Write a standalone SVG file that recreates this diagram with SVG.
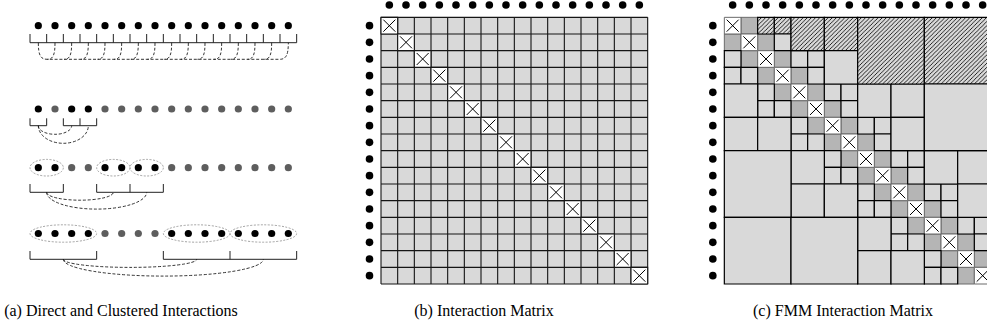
<svg xmlns="http://www.w3.org/2000/svg" xmlns:xlink="http://www.w3.org/1999/xlink" width="987" height="331" viewBox="0 0 987 331">
<style>
.bk{fill:#000}
.gr{fill:#5e5e5e}
.br{fill:none;stroke:#222;stroke-width:1}
.ds{fill:none;stroke:#111;stroke-width:0.85;stroke-dasharray:3,1.8}
.el{fill:none;stroke:#8a8a8a;stroke-width:0.8;stroke-dasharray:2,1.5}
.ns{vector-effect:non-scaling-stroke}
.lt{fill:#d9d9d9;stroke:#000;stroke-width:1.2;vector-effect:non-scaling-stroke}
.ht{fill:url(#hatch);stroke:#000;stroke-width:1.2;vector-effect:non-scaling-stroke}
.dk{fill:#b5b5b5;stroke:#6a6a6a;stroke-width:1;vector-effect:non-scaling-stroke}
.cap{font-family:"Liberation Serif","Times New Roman",serif;font-size:16px;fill:#000}
</style>
<defs>
<pattern id="hatch" patternUnits="userSpaceOnUse" width="0.25" height="0.25">
<rect width="0.25" height="0.25" fill="#d9d9d9"/>
<path d="M-0.0625,0.0625 L0.0625,-0.0625 M0,0.25 L0.25,0 M0.1875,0.3125 L0.3125,0.1875" stroke="#000" stroke-width="0.05"/>
</pattern>
<rect id="d" width="1" height="1" class="dk"/>
<rect id="l" width="1" height="1" class="lt"/>
<rect id="l2" width="2" height="2" class="lt"/>
<rect id="l4" width="4" height="4" class="lt"/>
<g id="xc">
<rect width="1" height="1" fill="#fff" stroke="#6a6a6a" stroke-width="1" class="ns"/>
<path d="M0.14,0.14 L0.86,0.86 M0.86,0.14 L0.14,0.86" stroke="#000" stroke-width="1" fill="none" class="ns"/>
</g>
<g id="xb">
<rect width="1" height="1" fill="#fff" stroke="#151515" stroke-width="1.1" class="ns"/>
<path d="M0.14,0.14 L0.86,0.86 M0.86,0.14 L0.14,0.86" stroke="#000" stroke-width="1" fill="none" class="ns"/>
</g>
<g id="dots">
<circle cx="0.5" cy="-0.74" r="0.228"/><circle cx="1.5" cy="-0.74" r="0.228"/><circle cx="2.5" cy="-0.74" r="0.228"/><circle cx="3.5" cy="-0.74" r="0.228"/>
<circle cx="4.5" cy="-0.74" r="0.228"/><circle cx="5.5" cy="-0.74" r="0.228"/><circle cx="6.5" cy="-0.74" r="0.228"/><circle cx="7.5" cy="-0.74" r="0.228"/>
<circle cx="8.5" cy="-0.74" r="0.228"/><circle cx="9.5" cy="-0.74" r="0.228"/><circle cx="10.5" cy="-0.74" r="0.228"/><circle cx="11.5" cy="-0.74" r="0.228"/>
<circle cx="12.5" cy="-0.74" r="0.228"/><circle cx="13.5" cy="-0.74" r="0.228"/><circle cx="14.5" cy="-0.74" r="0.228"/><circle cx="15.5" cy="-0.74" r="0.228"/>
<circle cx="-0.69" cy="0.5" r="0.228"/><circle cx="-0.69" cy="1.5" r="0.228"/><circle cx="-0.69" cy="2.5" r="0.228"/><circle cx="-0.69" cy="3.5" r="0.228"/>
<circle cx="-0.69" cy="4.5" r="0.228"/><circle cx="-0.69" cy="5.5" r="0.228"/><circle cx="-0.69" cy="6.5" r="0.228"/><circle cx="-0.69" cy="7.5" r="0.228"/>
<circle cx="-0.69" cy="8.5" r="0.228"/><circle cx="-0.69" cy="9.5" r="0.228"/><circle cx="-0.69" cy="10.5" r="0.228"/><circle cx="-0.69" cy="11.5" r="0.228"/>
<circle cx="-0.69" cy="12.5" r="0.228"/><circle cx="-0.69" cy="13.5" r="0.228"/><circle cx="-0.69" cy="14.5" r="0.228"/><circle cx="-0.69" cy="15.5" r="0.228"/>
</g>
</defs>
<rect width="987" height="331" fill="#fff"/>

<!-- Panel (a) -->
<g id="panel-a">
<g id="a-row1">
<circle class="bk" cx="38.33" cy="25.7" r="3.6"/><circle class="bk" cx="55" cy="25.7" r="3.6"/><circle class="bk" cx="71.67" cy="25.7" r="3.6"/><circle class="bk" cx="88.33" cy="25.7" r="3.6"/>
<circle class="bk" cx="105" cy="25.7" r="3.6"/><circle class="bk" cx="121.67" cy="25.7" r="3.6"/><circle class="bk" cx="138.33" cy="25.7" r="3.6"/><circle class="bk" cx="155" cy="25.7" r="3.6"/>
<circle class="bk" cx="171.67" cy="25.7" r="3.6"/><circle class="bk" cx="188.33" cy="25.7" r="3.6"/><circle class="bk" cx="205" cy="25.7" r="3.6"/><circle class="bk" cx="221.67" cy="25.7" r="3.6"/>
<circle class="bk" cx="238.33" cy="25.7" r="3.6"/><circle class="bk" cx="255" cy="25.7" r="3.6"/><circle class="bk" cx="271.67" cy="25.7" r="3.6"/><circle class="bk" cx="288.33" cy="25.7" r="3.6"/>
<path class="br" d="M30,42.7 H296.67 M30,34 V42.7 M46.67,34 V42.7 M63.33,34 V42.7 M80,34 V42.7 M96.67,34 V42.7 M113.33,34 V42.7 M130,34 V42.7 M146.67,34 V42.7 M163.33,34 V42.7 M180,34 V42.7 M196.67,34 V42.7 M213.33,34 V42.7 M230,34 V42.7 M246.67,34 V42.7 M263.33,34 V42.7 M280,34 V42.7 M296.67,34 V42.7"/>
</g>
<g id="a-row2">
<circle class="bk" cx="38.33" cy="109" r="3.6"/><circle class="gr" cx="55" cy="109" r="3.6"/><circle class="bk" cx="71.67" cy="109" r="3.6"/><circle class="bk" cx="88.33" cy="109" r="3.6"/>
<circle class="gr" cx="105" cy="109" r="3.6"/><circle class="gr" cx="121.67" cy="109" r="3.6"/><circle class="gr" cx="138.33" cy="109" r="3.6"/><circle class="gr" cx="155" cy="109" r="3.6"/>
<circle class="gr" cx="171.67" cy="109" r="3.6"/><circle class="gr" cx="188.33" cy="109" r="3.6"/><circle class="gr" cx="205" cy="109" r="3.6"/><circle class="gr" cx="221.67" cy="109" r="3.6"/>
<circle class="gr" cx="238.33" cy="109" r="3.6"/><circle class="gr" cx="255" cy="109" r="3.6"/><circle class="gr" cx="271.67" cy="109" r="3.6"/><circle class="gr" cx="288.33" cy="109" r="3.6"/>
<path class="br" d="M30,118.3 V125.7 H46.67 V118.3 M63.33,118.3 V125.7 H96.67 V118.3 M80,118.3 V125.7"/>
</g>
<g id="a-row3">
<ellipse class="el" cx="46.67" cy="167.7" rx="16.67" ry="8.3"/><ellipse class="el" cx="113.33" cy="167.7" rx="16.67" ry="8.3"/><ellipse class="el" cx="146.67" cy="167.7" rx="16.67" ry="8.3"/>
<circle class="bk" cx="38.33" cy="167.7" r="3.6"/><circle class="bk" cx="55" cy="167.7" r="3.6"/><circle class="gr" cx="71.67" cy="167.7" r="3.6"/><circle class="gr" cx="88.33" cy="167.7" r="3.6"/>
<circle class="bk" cx="105" cy="167.7" r="3.6"/><circle class="bk" cx="121.67" cy="167.7" r="3.6"/><circle class="bk" cx="138.33" cy="167.7" r="3.6"/><circle class="bk" cx="155" cy="167.7" r="3.6"/>
<circle class="gr" cx="171.67" cy="167.7" r="3.6"/><circle class="gr" cx="188.33" cy="167.7" r="3.6"/><circle class="gr" cx="205" cy="167.7" r="3.6"/><circle class="gr" cx="221.67" cy="167.7" r="3.6"/>
<circle class="gr" cx="238.33" cy="167.7" r="3.6"/><circle class="gr" cx="255" cy="167.7" r="3.6"/><circle class="gr" cx="271.67" cy="167.7" r="3.6"/><circle class="gr" cx="288.33" cy="167.7" r="3.6"/>
<path class="br" d="M30,184 V192.3 H63.33 V184 M96.67,184 V192.3 H163.33 V184 M130,184 V192.3"/>
</g>
<g id="a-row4">
<ellipse class="el" cx="63.33" cy="233.5" rx="33.33" ry="8.7"/><ellipse class="el" cx="196.67" cy="233.5" rx="33.33" ry="8.7"/><ellipse class="el" cx="263.33" cy="233.5" rx="33.33" ry="8.7"/>
<circle class="bk" cx="38.33" cy="233.5" r="3.6"/><circle class="bk" cx="55" cy="233.5" r="3.6"/><circle class="bk" cx="71.67" cy="233.5" r="3.6"/><circle class="bk" cx="88.33" cy="233.5" r="3.6"/>
<circle class="gr" cx="105" cy="233.5" r="3.6"/><circle class="gr" cx="121.67" cy="233.5" r="3.6"/><circle class="gr" cx="138.33" cy="233.5" r="3.6"/><circle class="gr" cx="155" cy="233.5" r="3.6"/>
<circle class="bk" cx="171.67" cy="233.5" r="3.6"/><circle class="bk" cx="188.33" cy="233.5" r="3.6"/><circle class="bk" cx="205" cy="233.5" r="3.6"/><circle class="bk" cx="221.67" cy="233.5" r="3.6"/>
<circle class="bk" cx="238.33" cy="233.5" r="3.6"/><circle class="bk" cx="255" cy="233.5" r="3.6"/><circle class="bk" cx="271.67" cy="233.5" r="3.6"/><circle class="bk" cx="288.33" cy="233.5" r="3.6"/>
<path class="br" d="M30,251 V259.3 H96.67 V251 M163.33,251 V259.3 H296.67 V251 M230,251 V259.3"/>
</g>
</g>

<g id="connectors">
<path class="ds" d="M38.33,42.7 C38.33,55 40.5,59.3 47,59.3 L279.63,59.3 C286.1,59.3 288.33,55 288.33,42.7"/>
<path class="ds" d="M55,42.7 C55,54 53.5,59.3 47.5,59.3"/>
<path class="ds" d="M71.67,42.7 C71.67,54 70.2,59.3 64.2,59.3"/>
<path class="ds" d="M88.33,42.7 C88.33,54 86.8,59.3 80.8,59.3"/>
<path class="ds" d="M105,42.7 C105,54 103.5,59.3 97.5,59.3"/>
<path class="ds" d="M121.67,42.7 C121.67,54 120.2,59.3 114.2,59.3"/>
<path class="ds" d="M138.33,42.7 C138.33,54 136.8,59.3 130.8,59.3"/>
<path class="ds" d="M155,42.7 C155,54 153.5,59.3 147.5,59.3"/>
<path class="ds" d="M171.67,42.7 C171.67,54 170.2,59.3 164.2,59.3"/>
<path class="ds" d="M188.33,42.7 C188.33,54 186.8,59.3 180.8,59.3"/>
<path class="ds" d="M205,42.7 C205,54 203.5,59.3 197.5,59.3"/>
<path class="ds" d="M221.67,42.7 C221.67,54 220.2,59.3 214.2,59.3"/>
<path class="ds" d="M238.33,42.7 C238.33,54 236.8,59.3 230.8,59.3"/>
<path class="ds" d="M255,42.7 C255,54 253.5,59.3 247.5,59.3"/>
<path class="ds" d="M271.67,42.7 C271.67,54 270.2,59.3 264.2,59.3"/>
<path class="ds" d="M38.33,125.7 A16.67,8.6 0 0 0 71.67,125.7"/>
<path class="ds" d="M38.33,125.7 A25,17.6 0 0 0 88.33,125.7"/>
<path class="ds" d="M46.67,192.3 A33.33,7.9 0 0 0 113.33,192.3"/>
<path class="ds" d="M46.67,192.3 A50,16.8 0 0 0 146.67,192.3"/>
<path class="ds" d="M63.33,259.3 A66.67,8.1 0 0 0 196.67,259.3"/>
<path class="ds" d="M63.33,259.3 A100,16.8 0 0 0 263.33,259.3"/>
</g>

<!-- Panel (b) -->
<g id="panel-b" transform="translate(381,17.33) scale(16.667)">
<rect width="16" height="16" fill="#d9d9d9"/>
<path class="ns" fill="none" stroke="#151515" stroke-width="1.1" d="M0,0 V16 M1,0 V16 M2,0 V16 M3,0 V16 M4,0 V16 M5,0 V16 M6,0 V16 M7,0 V16 M8,0 V16 M9,0 V16 M10,0 V16 M11,0 V16 M12,0 V16 M13,0 V16 M14,0 V16 M15,0 V16 M16,0 V16 M0,0 H16 M0,1 H16 M0,2 H16 M0,3 H16 M0,4 H16 M0,5 H16 M0,6 H16 M0,7 H16 M0,8 H16 M0,9 H16 M0,10 H16 M0,11 H16 M0,12 H16 M0,13 H16 M0,14 H16 M0,15 H16 M0,16 H16"/>
<g id="b-diag">
<use href="#xb" x="0" y="0"/><use href="#xb" x="1" y="1"/><use href="#xb" x="2" y="2"/><use href="#xb" x="3" y="3"/>
<use href="#xb" x="4" y="4"/><use href="#xb" x="5" y="5"/><use href="#xb" x="6" y="6"/><use href="#xb" x="7" y="7"/>
<use href="#xb" x="8" y="8"/><use href="#xb" x="9" y="9"/><use href="#xb" x="10" y="10"/><use href="#xb" x="11" y="11"/>
<use href="#xb" x="12" y="12"/><use href="#xb" x="13" y="13"/><use href="#xb" x="14" y="14"/><use href="#xb" x="15" y="15"/>
</g>
<use href="#dots" fill="#000"/>
</g>

<!-- Panel (c) -->
<g id="panel-c" transform="translate(724.33,17.33) scale(16.667)">
<g id="c-near">
<use href="#d" x="1" y="0"/><use href="#d" x="0" y="1"/><use href="#d" x="2" y="1"/><use href="#d" x="1" y="2"/>
<use href="#d" x="3" y="2"/><use href="#d" x="2" y="3"/><use href="#d" x="4" y="3"/><use href="#d" x="3" y="4"/>
<use href="#d" x="5" y="4"/><use href="#d" x="4" y="5"/><use href="#d" x="6" y="5"/><use href="#d" x="5" y="6"/>
<use href="#d" x="7" y="6"/><use href="#d" x="6" y="7"/><use href="#d" x="8" y="7"/><use href="#d" x="7" y="8"/>
<use href="#d" x="9" y="8"/><use href="#d" x="8" y="9"/><use href="#d" x="10" y="9"/><use href="#d" x="9" y="10"/>
<use href="#d" x="11" y="10"/><use href="#d" x="10" y="11"/><use href="#d" x="12" y="11"/><use href="#d" x="11" y="12"/>
<use href="#d" x="13" y="12"/><use href="#d" x="12" y="13"/><use href="#d" x="14" y="13"/><use href="#d" x="13" y="14"/>
<use href="#d" x="15" y="14"/><use href="#d" x="14" y="15"/>
<use href="#xc" x="0" y="0"/><use href="#xc" x="1" y="1"/><use href="#xc" x="2" y="2"/><use href="#xc" x="3" y="3"/>
<use href="#xc" x="4" y="4"/><use href="#xc" x="5" y="5"/><use href="#xc" x="6" y="6"/><use href="#xc" x="7" y="7"/>
<use href="#xc" x="8" y="8"/><use href="#xc" x="9" y="9"/><use href="#xc" x="10" y="10"/><use href="#xc" x="11" y="11"/>
<use href="#xc" x="12" y="12"/><use href="#xc" x="13" y="13"/><use href="#xc" x="14" y="14"/><use href="#xc" x="15" y="15"/>
</g>
<g id="c-level1">
<rect class="ht" x="2" y="0" width="1" height="1"/><rect class="ht" x="3" y="0" width="1" height="1"/>
<use href="#l" x="3" y="1"/>
<use href="#l" x="0" y="2"/><use href="#l" x="4" y="2"/><use href="#l" x="5" y="2"/>
<use href="#l" x="0" y="3"/><use href="#l" x="1" y="3"/><use href="#l" x="5" y="3"/>
<use href="#l" x="2" y="4"/><use href="#l" x="6" y="4"/><use href="#l" x="7" y="4"/>
<use href="#l" x="2" y="5"/><use href="#l" x="3" y="5"/><use href="#l" x="7" y="5"/>
<use href="#l" x="4" y="6"/><use href="#l" x="8" y="6"/><use href="#l" x="9" y="6"/>
<use href="#l" x="4" y="7"/><use href="#l" x="5" y="7"/><use href="#l" x="9" y="7"/>
<use href="#l" x="6" y="8"/><use href="#l" x="10" y="8"/><use href="#l" x="11" y="8"/>
<use href="#l" x="6" y="9"/><use href="#l" x="7" y="9"/><use href="#l" x="11" y="9"/>
<use href="#l" x="8" y="10"/><use href="#l" x="12" y="10"/><use href="#l" x="13" y="10"/>
<use href="#l" x="8" y="11"/><use href="#l" x="9" y="11"/><use href="#l" x="13" y="11"/>
<use href="#l" x="10" y="12"/><use href="#l" x="14" y="12"/><use href="#l" x="15" y="12"/>
<use href="#l" x="10" y="13"/><use href="#l" x="11" y="13"/><use href="#l" x="15" y="13"/>
<use href="#l" x="12" y="14"/>
<use href="#l" x="12" y="15"/><use href="#l" x="13" y="15"/>
</g>
<g id="c-level2">
<rect class="ht" x="4" y="0" width="2" height="2"/><rect class="ht" x="6" y="0" width="2" height="2"/>
<use href="#l2" x="6" y="2"/>
<use href="#l2" x="0" y="4"/><use href="#l2" x="8" y="4"/><use href="#l2" x="10" y="4"/>
<use href="#l2" x="0" y="6"/><use href="#l2" x="2" y="6"/><use href="#l2" x="10" y="6"/>
<use href="#l2" x="4" y="8"/><use href="#l2" x="12" y="8"/><use href="#l2" x="14" y="8"/>
<use href="#l2" x="4" y="10"/><use href="#l2" x="6" y="10"/><use href="#l2" x="14" y="10"/>
<use href="#l2" x="8" y="12"/>
<use href="#l2" x="8" y="14"/><use href="#l2" x="10" y="14"/>
</g>
<g id="c-level4">
<rect class="ht" x="8" y="0" width="4" height="4"/><rect class="ht" x="12" y="0" width="4" height="4"/>
<use href="#l4" x="12" y="4"/>
<use href="#l4" x="0" y="8"/>
<use href="#l4" x="0" y="12"/><use href="#l4" x="4" y="12"/>
</g>
<use href="#dots" fill="#000"/>
</g>

<g id="captions">
<text class="cap" x="121" y="316" text-anchor="middle">(a) Direct and Clustered Interactions</text>
<text class="cap" x="484" y="316" text-anchor="middle">(b) Interaction Matrix</text>
<text class="cap" x="843" y="316" text-anchor="middle">(c) FMM Interaction Matrix</text>
</g>
</svg>
